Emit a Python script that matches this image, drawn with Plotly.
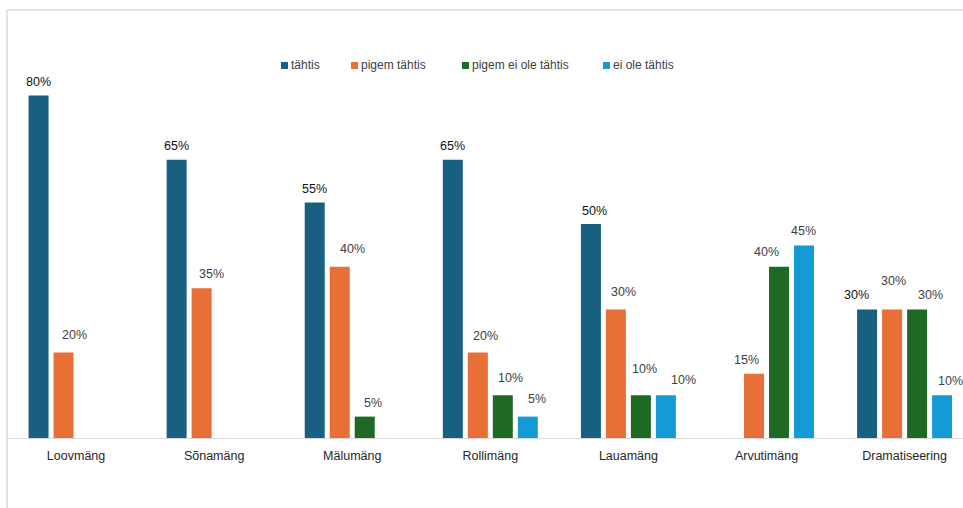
import plotly.graph_objects as go

# ---- data ----
categories = ["Loovmäng", "Sõnamäng", "Mälumäng", "Rollimäng", "Lauamäng", "Arvutimäng", "Dramatiseering"]
series_names = ["tähtis", "pigem tähtis", "pigem ei ole tähtis", "ei ole tähtis"]
tahtis = [80, 65, 55, 65, 50, None, 30]
pigem_tahtis = [20, 35, 40, 20, 30, 15, 30]
pigem_ei_ole = [None, None, 5, 10, 10, 40, 30]
ei_ole = [None, None, None, 5, 10, 45, 10]
values = [tahtis, pigem_tahtis, pigem_ei_ole, ei_ole]

# ---- styles ----
colors = ["#185f81", "#e86f36", "#1e6a25", "#149bd5"]
label_colors = ["#111111", "#404040", "#404040", "#404040"]
# manual label nudges (px) like the moved labels in the original
label_dx = [
    [0, 0, 0, 0, 4, 0, -11],
    [11, 10, 13, 8, 8, -8, 1],
    [0, 0, 8, 8, 4, -12, 13],
    [0, 0, 0, 9, 18, 0, 8],
]
label_dy = [
    [0, 0, 0, 0, 1, 0, -1],
    [-3, 0, -4, -2, -4, 0, -15],
    [0, 0, 0, -3, -12, -1, -1],
    [0, 0, 0, -4, -1, 0, 0],
]

W, H = 963, 508
ML, MR, MT, MB = 7, 0, 10, 70
PW, PH = W - ML - MR, H - MT - MB
x_range = [-0.5, 6.423]
cat_px = PW / (x_range[1] - x_range[0])
bargap = 0.276
slot_px = cat_px * (1 - bargap) / 4

FONT = "Liberation Sans, Arial, sans-serif"

fig = go.Figure()
for name, vals, col in zip(series_names, values, colors):
    fig.add_trace(go.Bar(
        name=name, x=categories, y=vals,
        marker=dict(color=col, line=dict(width=0)),
        showlegend=False,
    ))

annotations = []
for si, vals in enumerate(values):
    for ci, v in enumerate(vals):
        if v is None:
            continue
        annotations.append(dict(
            x=categories[ci], y=v, xref="x", yref="y",
            text=f"{v}%", showarrow=False,
            xanchor="center", yanchor="middle",
            xshift=(si - 1.5) * slot_px + label_dx[si][ci],
            yshift=14 - label_dy[si][ci],
            font=dict(family=FONT, size=12.5, color=label_colors[si]),
        ))

# custom legend (small squares + text)
legend_sq_px = [281, 351, 462, 603]
legend_y_px = 65.5
shapes = []
def px2x(px):
    return (px - ML) / PW
def px2y(py):
    return (MT + PH - py) / PH

for name, col, sx in zip(series_names, colors, legend_sq_px):
    shapes.append(dict(type="rect", xref="paper", yref="paper",
                       x0=px2x(sx), x1=px2x(sx + 7),
                       y0=px2y(legend_y_px + 3.5), y1=px2y(legend_y_px - 3.5),
                       fillcolor=col, line=dict(width=0)))
    annotations.append(dict(
        x=px2x(sx + 8), y=px2y(legend_y_px), xref="paper", yref="paper",
        text=name, showarrow=False, xanchor="left", yanchor="middle",
        font=dict(family=FONT, size=12, color="#404040"),
    ))

# chart border (top and left)
shapes.append(dict(type="line", xref="paper", yref="paper",
                   x0=0, x1=1.01, y0=1, y1=1,
                   line=dict(color="#d9d9d9", width=1.5)))
shapes.append(dict(type="line", xref="paper", yref="paper",
                   x0=0, x1=0, y0=1, y1=-0.2,
                   line=dict(color="#d9d9d9", width=1.5)))

fig.update_layout(
    width=W, height=H,
    margin=dict(l=ML, r=MR, t=MT, b=MB, pad=0),
    paper_bgcolor="white", plot_bgcolor="white",
    barmode="group", bargap=bargap, bargroupgap=0.2,
    font=dict(family=FONT, size=12, color="#262626"),
    xaxis=dict(range=x_range, showgrid=False, zeroline=False,
               showline=True, linecolor="#d9d9d9", linewidth=1,
               ticks="", ticklabelstandoff=6,
               tickfont=dict(family=FONT, size=12.5, color="#262626")),
    yaxis=dict(range=[0, 100], visible=False, showgrid=False, zeroline=False),
    annotations=annotations,
    shapes=shapes,
    showlegend=False,
)

fig.write_html(
    "out.html",
    config={"displayModeBar": False},
    post_script="document.body.style.margin='0';document.body.style.overflow='hidden';",
)
